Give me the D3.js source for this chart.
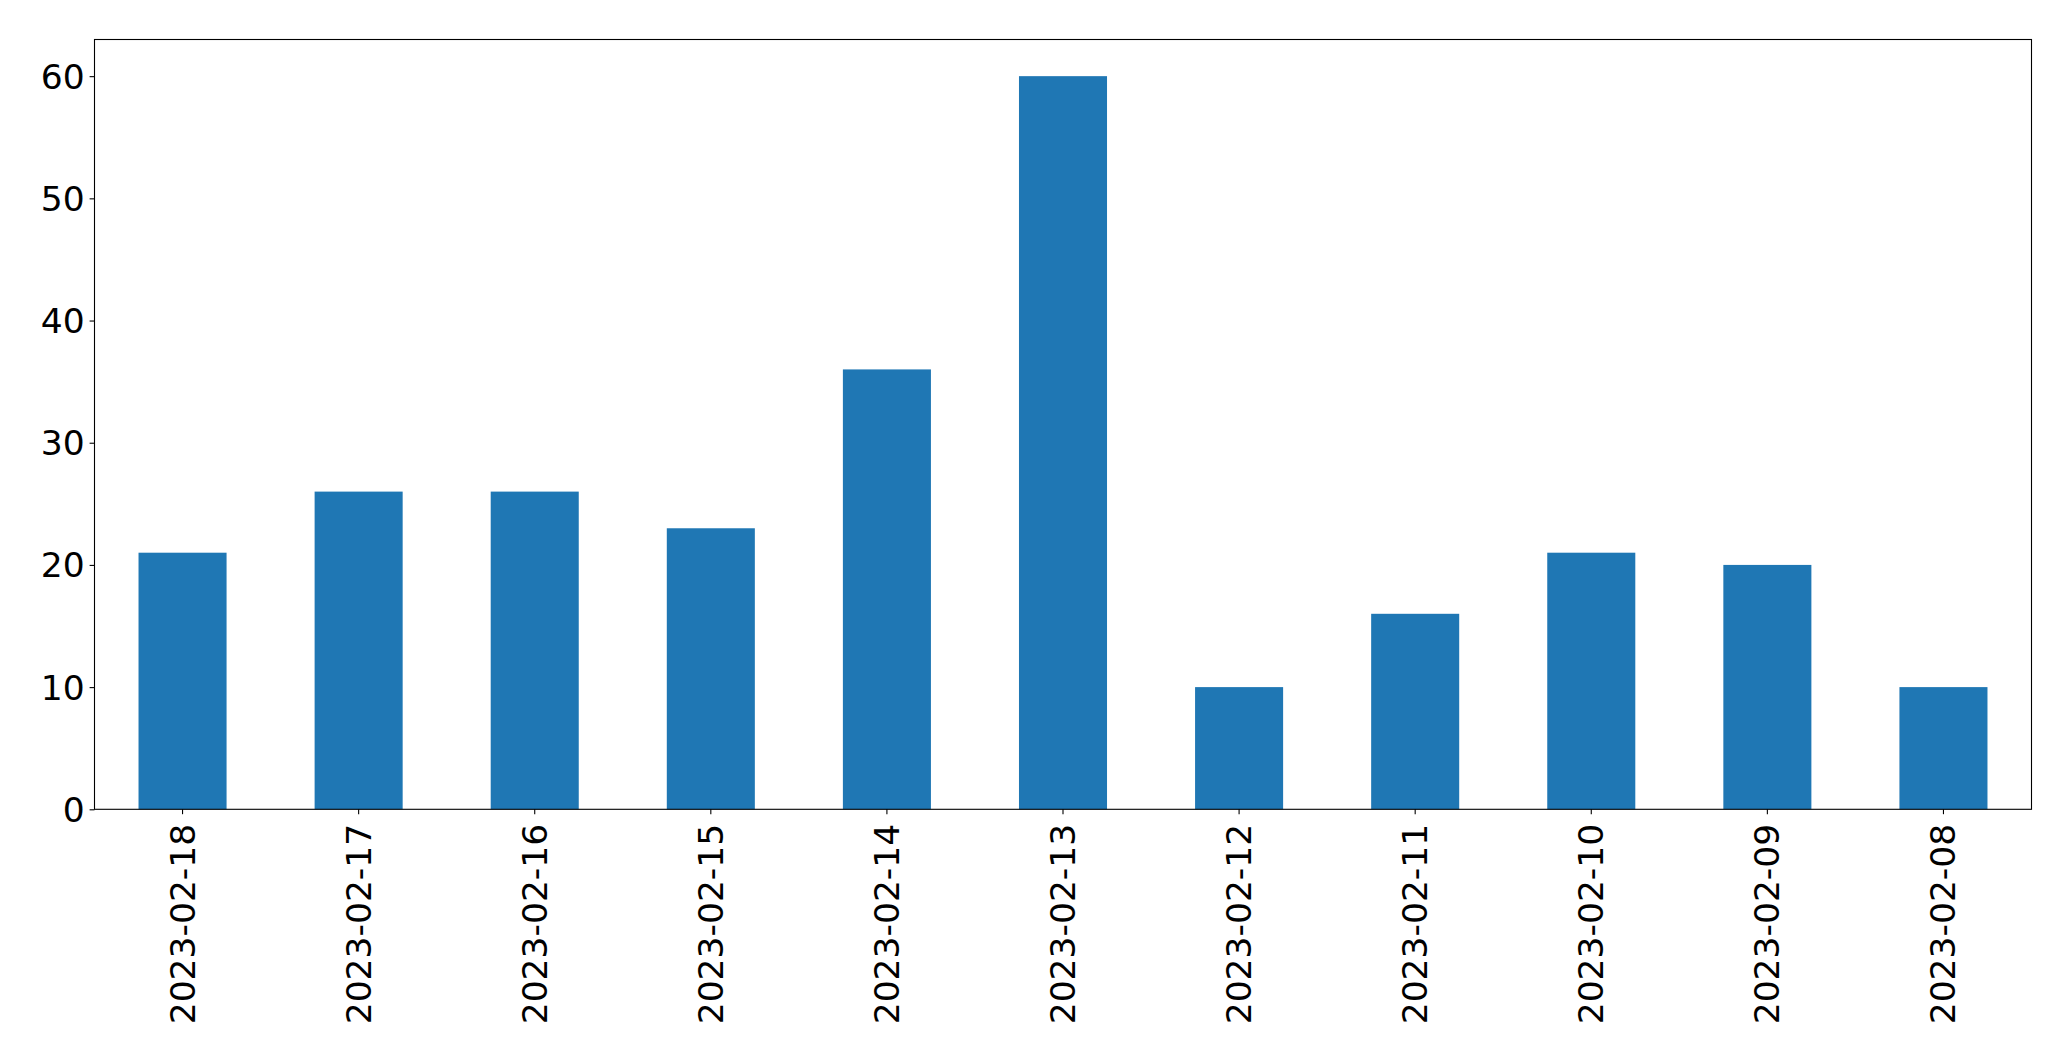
<!DOCTYPE html>
<html>
<head>
<meta charset="utf-8">
<script src="https://cdn.jsdelivr.net/npm/d3@7"></script>
<style>
  html, body { margin: 0; padding: 0; background: #fff; }
  svg { display: block; }
  text { font-family: "DejaVu Sans", sans-serif; fill: #000; }
</style>
</head>
<body>
<svg id="chart" width="2071" height="1061"></svg>
<script>
const categories = ["2023-02-18","2023-02-17","2023-02-16","2023-02-15","2023-02-14","2023-02-13","2023-02-12","2023-02-11","2023-02-10","2023-02-09","2023-02-08"];
const values = [21, 26, 26, 23, 36, 60, 10, 16, 21, 20, 10];
const yTicks = [0, 10, 20, 30, 40, 50, 60];

const W = 2071, H = 1061;
const margin = {left: 94.5, right: W - 2031.5, top: 39.5, bottom: H - 809.3};
const svg = d3.select("#chart");
const iw = W - margin.left - margin.right;
const ih = H - margin.top - margin.bottom;
const g = svg.append("g").attr("transform", `translate(${margin.left},${margin.top})`);

const x = d3.scaleBand().domain(categories).range([0, iw]).paddingInner(0.5).paddingOuter(0.25);
const y = d3.scaleLinear().domain([0, 63]).range([ih, 0]);

g.selectAll("rect.bar").data(values).enter().append("rect")
  .attr("class", "bar")
  .attr("x", (d, i) => x(categories[i]))
  .attr("width", x.bandwidth())
  .attr("y", d => y(d))
  .attr("height", d => y(0) - y(d))
  .attr("fill", "#1f77b4");

const fs = 34.5;
const yAxis = g.append("g").call(d3.axisLeft(y).tickValues(yTicks).tickSize(4.9).tickPadding(4.9).tickFormat(d3.format("d")));
yAxis.select(".domain").remove();
yAxis.selectAll("line").attr("stroke", "#000").attr("stroke-width", 1.1);
yAxis.selectAll("text").style("font-size", fs + "px").attr("dy", "0.35em");

const xAxis = g.append("g").attr("transform", `translate(0,${ih})`).call(d3.axisBottom(x).tickSize(4.9).tickPadding(0));
xAxis.select(".domain").remove();
xAxis.selectAll("line").attr("stroke", "#000").attr("stroke-width", 1.1);
xAxis.selectAll("text")
  .style("font-size", fs + "px")
  .attr("text-anchor", "end")
  .attr("dy", null)
  .attr("y", 0)
  .attr("transform", "translate(0,14.5) rotate(-90)")
  .attr("dominant-baseline", "central");

g.append("rect").attr("x", 0).attr("y", 0).attr("width", iw).attr("height", ih)
  .attr("fill", "none").attr("stroke", "#000").attr("stroke-width", 1.1);
</script>
</body>
</html>
